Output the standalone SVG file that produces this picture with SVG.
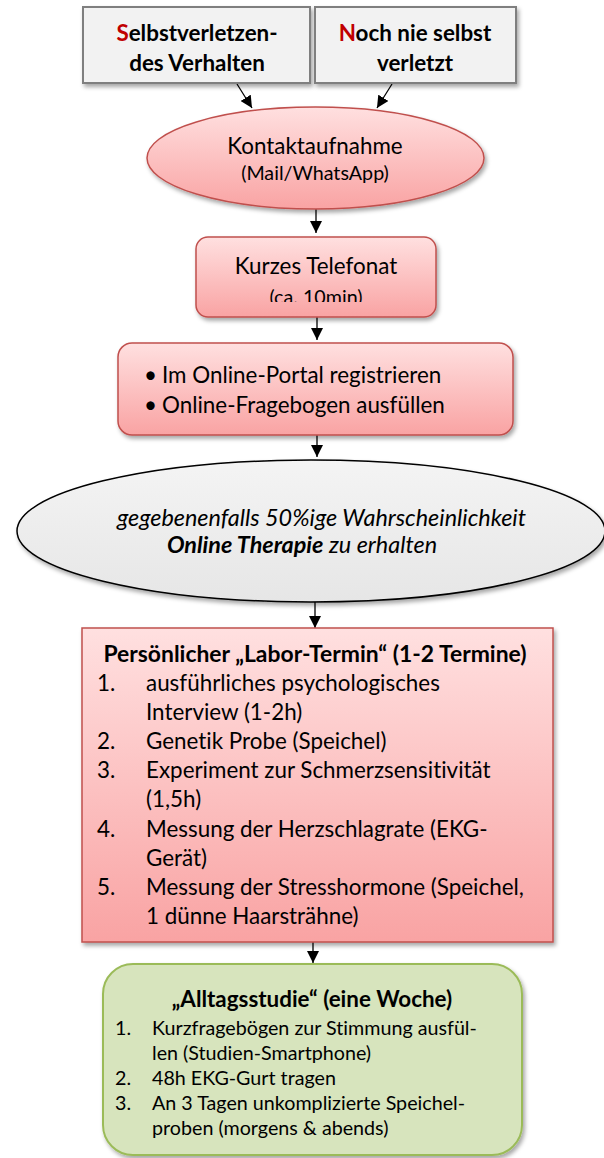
<svg xmlns="http://www.w3.org/2000/svg" width="604" height="1158" viewBox="0 0 604 1158">
<style>
text{font-family:Lato,"Noto Sans","Liberation Sans",sans-serif;fill:#000;font-variant-ligatures:none;font-feature-settings:"liga" 0,"clig" 0}
.b{font-weight:bold}
.t24{font-size:22.4px}
.t21{font-size:19.7px}
.it{font-size:23.4px;font-style:italic}
.red{fill:#c00000}
.gbox{fill:#f2f2f2;stroke:#7f7f7f;stroke-width:2}
.rbox{fill:url(#rg);stroke:#c0504d;stroke-width:1.5}
.conn line{stroke:#000;stroke-width:1.3;marker-end:url(#ah)}
</style>
<defs>
<linearGradient id="rg" x1="0" y1="0" x2="0" y2="1"><stop offset="0" stop-color="#ffe0e0"/><stop offset="1" stop-color="#f9a3a3"/></linearGradient>
<linearGradient id="gg" x1="0" y1="0" x2="0" y2="1"><stop offset="0" stop-color="#f4f4f4"/><stop offset="1" stop-color="#e6e6e6"/></linearGradient>
<filter id="sh" x="-10%" y="-10%" width="125%" height="130%"><feDropShadow dx="2" dy="3" stdDeviation="2" flood-color="#000" flood-opacity="0.35"/></filter>
<marker id="ah" viewBox="0 0 10 10" refX="10" refY="5" markerWidth="12" markerHeight="12" markerUnits="userSpaceOnUse" orient="auto"><path d="M0,0 L10,5 L0,10 z" fill="#000"/></marker>
<clipPath id="c1"><rect x="196" y="237" width="240" height="65"/></clipPath>
<clipPath id="c2"><rect x="103" y="964" width="419" height="176"/></clipPath>
</defs>

<g class="conn" id="connectors">
<line x1="237" y1="84" x2="252" y2="108"/>
<line x1="392" y1="84" x2="377" y2="108"/>
<line x1="316" y1="209" x2="316" y2="233"/>
<line x1="317" y1="317" x2="317" y2="340"/>
<line x1="317" y1="435" x2="317" y2="457"/>
<line x1="315" y1="602" x2="315" y2="628"/>
<line x1="313" y1="942" x2="313" y2="963"/>
</g>

<g id="n-selbst">
<rect class="gbox" x="83" y="7" width="227" height="76" filter="url(#sh)"/>
<text class="b t24" x="197" y="41" text-anchor="middle"><tspan class="red">S</tspan>elbstverletzen-</text>
<text class="b t24" x="197" y="71" text-anchor="middle">des Verhalten</text>
</g>

<g id="n-nie">
<rect class="gbox" x="315" y="7" width="201" height="76" filter="url(#sh)"/>
<text class="b t24" x="415" y="41" text-anchor="middle"><tspan class="red">N</tspan>och nie selbst</text>
<text class="b t24" x="415" y="71" text-anchor="middle">verletzt</text>
</g>

<g id="n-kontakt">
<ellipse class="rbox" cx="315.5" cy="158" rx="168.5" ry="51" filter="url(#sh)"/>
<text class="t24" x="315" y="154" text-anchor="middle">Kontaktaufnahme</text>
<text class="t21" x="315" y="180" text-anchor="middle">(Mail/WhatsApp)</text>
</g>

<g id="n-telefonat">
<rect class="rbox" x="196" y="237" width="240" height="80" rx="12" filter="url(#sh)"/>
<text class="t24" x="316" y="274" text-anchor="middle">Kurzes Telefonat</text>
<text class="t21" x="316" y="304" text-anchor="middle" clip-path="url(#c1)">(ca. 10min)</text>
</g>

<g id="n-portal">
<rect class="rbox" x="118" y="343" width="395" height="92" rx="14" filter="url(#sh)"/>
<text class="t24" x="144" y="383">•</text>
<text class="t24" x="162" y="383">Im Online-Portal registrieren</text>
<text class="t24" x="144" y="413">•</text>
<text class="t24" x="162" y="413">Online-Fragebogen ausfüllen</text>
</g>

<g id="n-therapie">
<ellipse cx="311" cy="531" rx="294" ry="71" fill="url(#gg)" stroke="#000" stroke-width="1.5" filter="url(#sh)"/>
<text class="it" x="321.5" y="526" text-anchor="middle">gegebenenfalls 50%ige Wahrscheinlichkeit</text>
<text class="it" x="302" y="553" text-anchor="middle"><tspan class="b">Online Therapie</tspan> zu erhalten</text>
</g>

<g id="n-labor">
<rect class="rbox" x="82" y="628" width="471" height="314" filter="url(#sh)"/>
<text class="b" font-size="22.9" x="315" y="662" text-anchor="middle">Persönlicher „Labor-Termin“ (1-2 Termine)</text>
<text class="t24" x="97" y="691">1.</text><text class="t24" x="146" y="691">ausführliches psychologisches</text>
<text class="t24" x="146" y="720">Interview (1-2h)</text>
<text class="t24" x="97" y="749">2.</text><text class="t24" x="146" y="749">Genetik Probe (Speichel)</text>
<text class="t24" x="97" y="778">3.</text><text class="t24" x="146" y="778">Experiment zur Schmerzsensitivität</text>
<text class="t24" x="146" y="807">(1,5h)</text>
<text class="t24" x="97" y="837">4.</text><text class="t24" x="146" y="837">Messung der Herzschlagrate (EKG-</text>
<text class="t24" x="146" y="866">Gerät)</text>
<text class="t24" x="97" y="895">5.</text><text class="t24" x="146" y="895">Messung der Stresshormone (Speichel,</text>
<text class="t24" x="146" y="924">1 dünne Haarsträhne)</text>
</g>

<g id="n-alltag">
<rect x="103" y="964" width="419" height="191" rx="30" fill="#d7e4bd" stroke="#9bbb59" stroke-width="2" filter="url(#sh)"/>
<text class="b t24" x="312" y="1007" text-anchor="middle">„Alltagsstudie“ (eine Woche)</text>
<g clip-path="url(#c2)">
<text class="t21" x="115" y="1035">1.</text><text class="t21" x="152" y="1035">Kurzfragebögen zur Stimmung ausfül-</text>
<text class="t21" x="152" y="1060">len (Studien-Smartphone)</text>
<text class="t21" x="115" y="1085">2.</text><text class="t21" x="152" y="1085">48h EKG-Gurt tragen</text>
<text class="t21" x="115" y="1110">3.</text><text class="t21" x="152" y="1110">An 3 Tagen unkomplizierte Speichel-</text>
<text class="t21" x="152" y="1135">proben (morgens &amp; abends)</text>
</g>
</g>
</svg>
